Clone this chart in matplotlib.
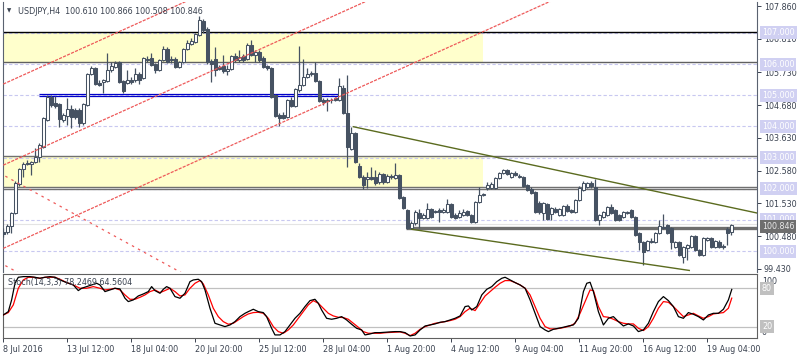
import matplotlib
matplotlib.use('Agg')
import matplotlib.pyplot as plt
import matplotlib.transforms as mtrans
import numpy as np

plt.rcParams['font.family'] = ['DejaVu Sans']
FS = 5.8
TXT = '#3a4250'
CANDLE = '#465262'

# ---------------- data (USDJPY H4) ----------------
opens = [100.62,100.62,100.81,101.23,102.15,102.64,102.83,102.80,102.86,103.02,
         103.34,104.21,104.94,104.75,104.72,104.21,104.34,104.56,104.53,104.53,
         104.11,104.69,105.68,105.87,105.39,105.42,105.46,105.81,105.91,106.07,
         105.46,105.39,105.49,105.49,105.68,105.55,106.16,106.19,106.00,105.81,
         106.13,106.48,106.16,106.16,105.91,106.07,106.48,106.64,106.71,106.93,
         107.38,107.12,106.10,106.16,105.91,105.94,105.78,105.84,106.26,106.13,
         106.26,106.16,106.61,106.29,106.39,106.19,105.94,105.87,105.01,104.37,
         104.37,104.30,104.85,104.66,105.17,105.33,105.59,105.68,105.71,105.46,
         104.85,104.85,104.85,104.91,104.85,105.23,104.43,103.28,103.79,102.73,
         102.38,102.31,102.38,102.38,102.22,102.48,102.22,102.41,102.35,102.44,
         101.74,101.32,100.74,100.91,101.23,101.07,101.07,101.35,101.29,101.32,
         101.26,101.26,101.51,101.16,101.10,101.16,101.29,101.16,100.94,101.58,
         101.80,102.03,102.03,102.03,102.35,102.51,102.60,102.38,102.51,102.38,
         102.38,102.12,101.99,101.90,101.55,101.23,101.51,101.19,101.35,101.16,
         101.16,101.45,101.32,101.26,101.64,101.96,102.06,102.19,102.06,101.00,
         101.10,101.16,101.42,101.32,101.16,101.10,101.23,101.32,101.10,100.58,
         100.30,100.04,100.33,100.30,100.58,100.78,100.84,100.74,100.14,100.30,
         99.81,100.10,100.14,100.49,100.04,99.88,100.36,100.42,100.14,100.30,
         100.17,100.71,100.610]
highs = [100.74,100.87,101.26,102.25,102.67,102.86,102.92,102.89,103.31,103.47,
         104.30,105.01,105.01,104.98,104.75,104.43,104.91,104.69,104.59,104.59,
         104.75,105.71,105.94,105.91,105.49,105.52,106.35,106.07,106.10,106.10,
         105.49,105.81,105.59,105.87,105.75,106.23,106.26,106.35,106.03,106.16,
         106.58,106.55,106.26,106.23,106.10,106.51,106.77,106.83,106.99,107.54,
         107.44,107.19,106.16,106.55,105.97,106.29,105.97,106.29,106.35,106.45,
         106.32,106.67,106.77,106.45,106.45,106.26,105.97,105.91,105.04,104.43,
         104.46,104.88,104.94,105.23,106.58,106.16,105.87,105.78,106.07,105.49,
         104.91,104.91,104.91,104.94,105.55,105.33,105.65,103.98,103.82,102.83,
         102.44,102.54,102.70,102.60,102.54,102.51,102.48,102.48,102.83,102.48,
         101.77,101.35,100.97,101.32,101.35,101.23,101.55,101.39,101.32,101.39,
         101.39,101.67,101.55,101.23,101.32,101.35,101.32,101.19,101.61,102.06,
         101.87,102.22,102.22,102.38,102.54,102.64,102.64,102.54,102.57,102.48,
         102.41,102.15,102.06,101.93,101.61,101.58,101.55,101.42,101.42,101.39,
         101.48,101.51,101.35,101.67,102.09,102.25,102.22,102.25,102.31,101.19,
         101.29,101.45,101.51,101.35,101.19,101.29,101.29,101.35,101.13,100.62,
         100.33,100.36,100.42,100.62,101.00,101.19,100.87,100.78,100.33,100.33,
         100.17,100.23,100.52,100.52,100.07,100.46,100.46,100.46,100.36,100.36,
         100.23,100.78,100.866]
lows = [100.46,100.55,100.58,101.19,102.09,102.38,102.76,102.44,102.83,102.86,
        103.31,104.17,104.62,104.59,103.98,104.14,104.05,103.95,104.24,103.98,
        104.05,104.66,105.65,105.33,105.30,105.07,105.42,105.75,105.87,105.39,
        105.07,105.36,105.36,105.42,105.36,105.52,106.07,105.94,105.71,105.78,
        106.10,106.03,106.03,105.87,105.87,106.03,106.45,106.61,106.67,106.90,
        106.99,106.00,105.42,105.62,105.81,105.71,105.65,105.81,106.07,106.07,
        106.07,106.13,106.26,106.07,106.07,105.87,105.81,104.91,104.30,104.01,
        104.24,104.27,104.62,104.62,105.10,105.30,105.55,105.62,105.42,104.78,
        104.69,104.50,104.75,104.82,104.82,104.40,102.70,103.24,102.83,102.35,
        101.99,102.03,102.28,102.12,102.15,102.15,102.19,102.31,102.31,101.67,
        101.35,100.71,100.71,100.84,100.74,101.03,101.03,101.07,101.23,100.94,
        101.23,101.23,101.07,101.03,101.07,101.13,101.13,100.91,100.91,101.55,
        101.77,101.96,101.99,101.99,102.31,102.48,102.44,102.35,102.41,102.35,
        102.06,101.93,101.83,101.23,101.19,101.00,101.00,101.00,101.23,101.13,
        101.13,101.26,101.23,101.23,101.61,101.93,102.03,102.03,100.97,100.84,
        101.07,101.13,101.19,100.97,100.97,101.07,101.19,101.07,100.49,100.04,
        99.56,100.01,100.26,100.26,100.55,100.71,100.55,100.07,100.10,99.85,
        99.62,99.72,100.10,100.01,99.85,99.85,100.33,100.10,100.10,100.10,
        100.07,100.20,100.508]
closes = [100.55,100.81,101.23,102.19,102.64,102.80,102.80,102.86,103.02,103.40,
          104.27,104.94,104.69,104.66,104.24,104.37,104.56,104.30,104.30,104.11,
          104.72,105.68,105.87,105.36,105.33,105.49,105.81,105.94,106.03,105.42,
          105.14,105.49,105.42,105.68,105.49,106.19,106.13,105.97,105.81,106.13,
          106.48,106.07,106.13,105.91,106.07,106.48,106.67,106.74,106.96,107.41,
          107.09,106.07,106.00,105.81,105.84,105.78,105.84,106.26,106.13,106.23,
          106.13,106.61,106.29,106.39,106.13,105.91,105.87,104.94,104.34,104.27,
          104.27,104.85,104.66,105.20,105.33,105.59,105.68,105.71,105.46,104.82,
          104.78,104.82,104.84,104.85,105.30,104.43,103.34,103.79,102.86,102.38,
          102.12,102.38,102.31,102.19,102.48,102.22,102.41,102.38,102.44,101.71,
          101.39,100.74,100.91,101.26,101.07,101.16,101.35,101.10,101.26,101.26,
          101.32,101.51,101.10,101.07,101.23,101.26,101.16,100.94,101.58,101.80,
          101.83,102.12,102.15,102.35,102.51,102.60,102.48,102.51,102.44,102.41,
          102.09,101.96,101.87,101.26,101.26,101.55,101.03,101.39,101.26,101.35,
          101.45,101.29,101.26,101.64,102.03,102.19,102.19,102.09,101.00,101.16,
          101.26,101.42,101.23,101.00,101.00,101.26,101.26,101.10,100.52,100.30,
          99.97,100.33,100.30,100.58,100.81,100.74,100.58,100.30,100.30,99.88,
          100.14,100.20,100.49,100.04,99.88,100.42,100.42,100.14,100.33,100.14,
          100.14,100.58,100.846]

# stochastic (14,3,3): %K (black) and %D (red), sampled along bar index
k_bar = [0,1.25,2.08,2.92,3.75,5,6.67,7.92,9.17,10.42,11.67,12.92,14.17,15.83,17.5,18.75,19.58,20.83,
         22.08,23.33,24.17,25.42,26.67,27.92,29.17,30.42,31.25,32.5,33.75,35,36.25,37.08,37.92,39.17,
         40,40.83,41.67,42.92,44.17,45.42,46.67,47.5,48.75,49.58,50.42,51.67,52.92,54.17,55.42,56.67,
         57.92,59.17,60.42,61.25,62.5,63.75,65,65.83,67.08,67.92,69.17,70.42,71.67,72.92,74.17,75.42,
         76.67,77.92,78.75,79.58,80.83,82.08,83.33,84.58,85.83,87.08,88.33,89.58,90.42,91.67,92.92,
         94.17,95.42,96.67,97.92,99.2,100.45,101.7,102.95,104.2,105.45,106.7,107.95,109.2,110.45,
         111.7,112.95,114.2,115.45,116.28,117.12,118.37,119.62,120.87,122.12,123.37,124.62,125.45,
         126.7,127.95,129.2,130.45,131.7,132.95,134.2,135.45,136.28,137.53,138.78,140.03,141.28,
         142.53,143.78,145.03,145.87,146.7,147.53,148.78,150.03,151.28,152.53,153.78,155.03,156.28,
         157.53,158.78,160.03,161.28,162.53,163.78,165.03,166.28,167.53,168.78,170.03,171.28,172.53,
         173.78,175.03,176.28,177.53,178.78,180.03,181.28,182.12]
k_val = [38.3,43.5,61.8,87.8,97.2,98.2,98.2,97.2,95.6,97.2,98.2,97.2,93.0,88.9,85.2,76.4,80.0,82.6,
         85.2,87.8,85.2,74.8,77.4,80.0,79.0,64.4,59.2,61.8,68.0,71.1,74.8,82.6,76.4,72.2,78.4,82.6,
         80.0,67.0,64.4,72.2,90.4,93.0,94.1,90.4,77.4,48.8,25.3,22.7,20.1,22.7,27.9,35.7,40.9,43.5,
         47.2,43.5,42.0,35.7,17.5,7.1,7.1,12.3,22.7,33.1,40.9,51.4,60.7,62.8,56.6,46.1,33.1,31.6,
         33.1,35.7,30.5,23.8,17.5,14.9,7.1,8.6,10.7,10.7,11.3,11.8,12.3,12.3,10.7,5.5,7.1,14.9,21.1,
         22.7,24.3,26.9,27.9,30.5,33.1,36.8,51.4,52.4,46.1,51.4,69.6,78.4,82.6,90.4,95.6,97.2,93.0,
         88.9,85.2,80.0,61.8,40.9,20.1,14.9,12.3,15.9,17.5,19.1,21.1,22.7,33.1,74.8,87.8,89.4,74.8,
         43.5,22.7,33.1,35.7,27.9,21.1,24.3,21.1,12.3,14.9,25.3,43.5,59.2,67.0,60.7,51.4,35.7,33.1,
         42.0,39.4,35.7,30.5,38.3,40.9,40.9,47.2,61.8,78.2]
d_bar = [0,1.25,2.5,3.75,5,6.25,7.5,9.17,10.42,11.67,12.92,14.17,15.83,17.5,19.17,20.83,22.5,24.17,
         25.42,26.67,27.92,29.17,30.42,31.67,32.92,34.17,35.42,36.67,37.92,39.17,40.42,41.67,42.92,
         44.17,45.42,46.67,47.92,49.17,50,51.25,52.5,53.75,55,56.25,57.5,58.75,60,61.25,62.5,63.75,
         65,66.25,67.5,68.75,70,71.25,72.5,73.75,75,76.25,77.5,78.75,80,81.25,82.5,83.75,85,86.25,
         87.5,88.75,90,91.25,92.5,94.17,95.83,97.5,
         99.2,100.45,101.7,102.95,104.2,105.45,106.7,107.95,109.2,110.45,111.7,112.95,114.2,115.45,
         116.7,117.95,119.2,120.45,121.7,122.95,124.2,125.45,126.7,127.95,129.2,130.45,131.7,132.95,
         134.2,135.45,136.7,137.95,139.2,140.45,141.7,142.95,144.2,145.45,146.7,147.53,148.78,150.03,
         151.28,152.53,153.78,155.03,156.28,157.53,158.78,160.03,161.28,162.53,163.78,165.03,166.28,
         167.53,168.78,170.03,171.28,172.53,173.78,175.03,176.28,177.53,178.78,180.03,181.28,182.12]
d_val = [38.3,42.0,54.0,80.0,93.0,97.2,97.2,95.6,97.2,97.2,97.2,94.1,88.9,85.2,80.0,80.0,82.6,80.0,
         77.4,78.4,80.0,77.4,69.6,62.8,62.8,65.9,69.6,74.8,77.4,73.2,76.4,80.0,74.8,68.0,69.6,80.0,
         87.8,92.0,86.8,69.6,48.8,35.7,27.9,23.8,25.3,30.5,35.7,39.9,42.0,42.5,40.9,33.1,20.1,12.3,
         9.7,14.9,22.7,33.1,43.5,54.0,60.7,56.6,48.8,40.9,36.8,34.7,34.2,31.6,25.3,19.1,12.3,9.7,
         9.7,9.7,10.7,11.3,
         11.8,9.7,6.0,9.7,15.9,20.1,22.7,25.3,26.4,27.9,29.5,31.6,35.7,43.5,48.8,45.1,56.6,68.0,74.8,
         81.6,87.8,92.0,92.0,88.9,85.2,80.0,69.6,51.4,33.1,20.1,16.5,16.5,17.5,19.1,21.1,25.3,40.9,
         59.2,77.4,76.4,51.4,35.7,34.7,31.6,27.9,25.3,24.3,24.3,17.5,13.9,20.1,33.1,48.8,59.2,58.1,
         51.4,43.5,35.7,38.3,40.9,36.8,33.1,35.7,39.9,40.9,42.0,48.8,64.6]

price_ticks = [107.860, 106.810, 105.730, 104.680, 103.630, 102.580, 101.530, 100.480, 99.430]
round_levels = [107.0, 106.0, 105.0, 104.0, 103.0, 102.0, 101.0, 100.0]
time_tick_bars = [0, 16, 32, 48, 64, 80, 96, 112, 128, 144, 160, 176]
time_tick_labels = ['8 Jul 2016', '13 Jul 12:00', '18 Jul 04:00', '20 Jul 20:00', '25 Jul 12:00',
                    '28 Jul 04:00', '1 Aug 20:00', '4 Aug 12:00', '9 Aug 04:00', '11 Aug 20:00',
                    '16 Aug 12:00', '19 Aug 04:00']

# chart objects (bar index, price)
zones = [(107.04, 106.05), (103.04, 102.06)]
zone_x = (-1, 119.9)
object_lines = [(107.04, '#000000'), (106.05, '#606060'), (103.04, '#707070'),
                (102.06, '#707070'), (101.99, '#707070')]
blue_levels = [105.05, 104.99]
blue_x = (9.0, 85.4)
gray_level = 100.73
gray_x = (100.8, 189)
red_up_lines = [((-1, 105.30), (60, 108.84)), ((-1, 102.70), (120, 109.71)), ((-1, 100.03), (150, 108.78))]
red_down_lines = [((-1, 102.51), (60, 98.22)), ((-1, 99.64), (10, 98.87))]
olive_lines = [((87.5, 103.99), (188.5, 101.22)), ((102.1, 100.70), (171.5, 99.38))]
last_price = 100.846

# ---------------- figure ----------------
W, H = 800, 360
fig = plt.figure(figsize=(W / 100, H / 100), dpi=100)
fig.patch.set_facecolor('white')

def box(x0, y0, x1, y1):
    return [x0 / W, 1 - y1 / H, (x1 - x0) / W, (y1 - y0) / H]

ax = fig.add_axes(box(3, 2, 757, 272))
axs = fig.add_axes(box(3, 274, 757, 338))
for a in (ax, axs):
    a.set_xlim(-0.075, 188.43)
    a.set_facecolor('white')
ax.set_ylim(99.33, 107.99)
axs.set_ylim(2.3, 102.3)

# zones
for hi, lo in zones:
    ax.fill_between(zone_x, lo, hi, color='#ffffcc', lw=0, zorder=0)
# round-level grid
for lv in round_levels:
    ax.axhline(lv, color='#c8c8f0', lw=0.8, ls=(0, (3, 2)), zorder=1)
ax.axhline(100.87, color='#e4e4e4', lw=0.8, zorder=1)
for lv, c in object_lines:
    ax.axhline(lv, color=c, lw=1.0, zorder=2)
ax.hlines(blue_levels, *blue_x, color='#0000c8', lw=0.9, zorder=2)
ax.hlines(gray_level, *gray_x, color='#6e6e6e', lw=2.4, zorder=2)
for (x0, y0), (x1, y1) in red_up_lines:
    ax.plot([x0, x1], [y0, y1], color='#ee5a5a', lw=0.9, ls=(0, (2.5, 1)), zorder=5)
for (x0, y0), (x1, y1) in red_down_lines:
    ax.plot([x0, x1], [y0, y1], color='#ee5a5a', lw=0.9, ls=(0, (2, 3.5)), zorder=5)
for (x0, y0), (x1, y1) in olive_lines:
    ax.plot([x0, x1], [y0, y1], color='#5b6b1f', lw=1.0, zorder=5)

# candles
idx = np.arange(len(opens))
o = np.array(opens); c = np.array(closes)
ax.vlines(idx, lows, highs, color=CANDLE, lw=0.9, zorder=3)
bull = c >= o
face = np.where(bull, 'white', CANDLE)
ax.bar(idx, np.abs(c - o), bottom=np.minimum(o, c), width=0.66, color=face,
       edgecolor=CANDLE, linewidth=0.75, zorder=4)

# axes styling main
for s in ('top', 'bottom'):
    ax.spines[s].set_visible(False)
for s in ('left', 'right'):
    ax.spines[s].set_color('#5a6270')
    ax.spines[s].set_linewidth(0.8)
ax.yaxis.tick_right()
ax.set_yticks(price_ticks)
ax.set_yticklabels([f'{v:.3f}' for v in price_ticks])
ax.tick_params(axis='y', length=3, width=0.7, colors=TXT, labelsize=FS, pad=2)
ax.tick_params(axis='x', bottom=False, labelbottom=False)

trans = mtrans.blended_transform_factory(ax.transAxes, ax.transData)
for lv in round_levels:
    ax.text(1.0066, lv, f'{lv:.3f}', transform=trans, ha='left', va='center', fontsize=FS,
            color='white', clip_on=False, zorder=6,
            bbox=dict(boxstyle='square,pad=0.25', fc='#d0d0f2', ec='none'))
ax.text(1.0066, 100.80, f'{last_price:.3f}', transform=trans, ha='left', va='center', fontsize=FS,
        color='#e8e8e8', clip_on=False, zorder=7,
        bbox=dict(boxstyle='square,pad=0.25', fc='#6e6e6e', ec='none'))

# title
fig.text(7 / W, 1 - 11 / H, '\u25bc', fontsize=4, color=TXT, va='center', ha='left')
fig.text(18 / W, 1 - 11 / H, 'USDJPY,H4  100.610 100.866 100.508 100.846', fontsize=FS,
         color=TXT, va='center', ha='left')

# stochastic panel
axs.axhline(80, color='#c0c0c0', lw=0.9, zorder=1)
axs.axhline(20, color='#c0c0c0', lw=0.9, zorder=1)
axs.plot(d_bar, d_val, color='#ff0000', lw=0.9, zorder=3)
axs.plot(k_bar, k_val, color='#000000', lw=0.9, zorder=4)
for s in axs.spines.values():
    s.set_color('#606060')
    s.set_linewidth(0.8)
axs.tick_params(axis='y', left=False, right=False, labelleft=False)
axs.set_xticks(time_tick_bars)
axs.set_xticklabels(time_tick_labels)
axs.tick_params(axis='x', length=3, width=0.7, colors=TXT, labelsize=FS, pad=2)
for lbl in axs.get_xticklabels():
    lbl.set_ha('left')
axs.text(0.0066, 0.86, 'Stoch(14,3,3) 78.2469 64.5604', transform=axs.transAxes, fontsize=FS,
         color=TXT, ha='left', va='center', zorder=6)
strans = mtrans.blended_transform_factory(axs.transAxes, axs.transData)
axs.text(1.0066, 91, '100', transform=strans, fontsize=FS, color=TXT, ha='left', va='center', clip_on=False)
axs.text(1.0066, 11.5, '0', transform=strans, fontsize=FS, color=TXT, ha='left', va='center', clip_on=False)
for lv in (80, 20):
    axs.text(1.0066, lv, str(lv), transform=strans, fontsize=FS, color='white', ha='left', va='center',
             clip_on=False, bbox=dict(boxstyle='square,pad=0.25', fc='#c0c0c0', ec='none'))

fig.savefig('out.png', dpi=100, facecolor='white')
